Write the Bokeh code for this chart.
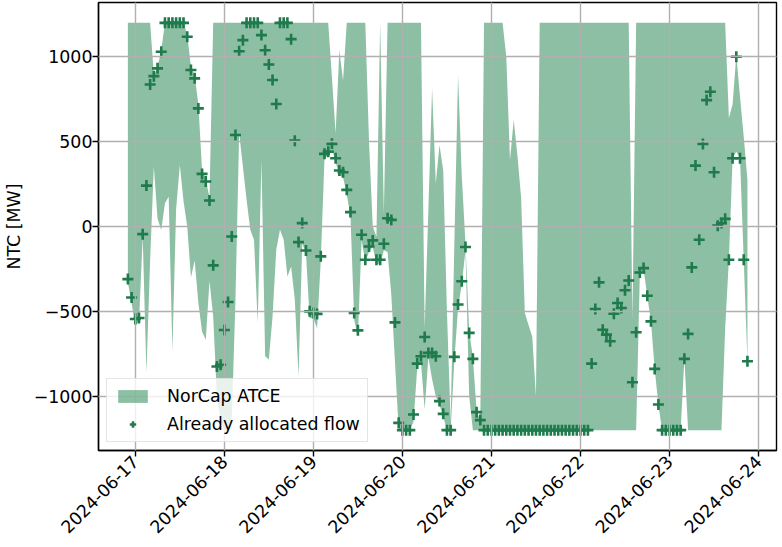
import numpy as np
import pandas as pd
from bokeh.plotting import figure
from bokeh.models import (Range1d, FixedTicker, DatetimeTickFormatter, Legend,
                          LegendItem, ColumnDataSource)
from bokeh.embed import file_html
from bokeh.resources import INLINE

# hourly timestamps (starting 2024-06-16 22:00)
times = pd.date_range("2024-06-16 22:00", periods=168, freq="h")

flow = [
    -310, -418, -545, -539, -45, 241, 837, 886, 932, 1030,
    1200, 1200, 1200, 1200, 1200, 1200, 1118, 922, 873, 696,
    310, 265, 153, -229, -825, -815, -610, -445, -59, 539,
    1033, 1098, 1200, 1200, 1200, 1200, 1128, 1039, 955, 863,
    722, 1200, 1200, 1200, 1104, 506, -92, 20, -141, -500,
    -510, -515, -176, 428, 441, 487, 402, 330, 320, 216,
    85, -510, -612, -49, -196, -118, -82, -196, -196, -102,
    49, 39, -565, -1157, -1200, -1200, -1200, -1108, -808, -765,
    -651, -745, -745, -765, -1029, -1104, -1200, -1200, -768, -460,
    -323, -121, -627, -780, -1094, -1141, -1200, -1200, -1200, -1200,
    -1200, -1200, -1200, -1200, -1200, -1200, -1200, -1200, -1200, -1200,
    -1200, -1200, -1200, -1200, -1200, -1200, -1200, -1200, -1200, -1200,
    -1200, -1200, -1200, -1200, -1200, -808, -486, -329, -608, -637,
    -676, -514, -451, -480, -376, -318, -918, -623, -271, -245,
    -408, -559, -839, -1049, -1200, -1200, -1200, -1200, -1200, -1200,
    -780, -633, -241, 359, -78, 486, 745, 794, 320, 5,
    20, 45, -196, 402, 1000, 402, -196, -794,
]

atce_upper = [
    1200, 1200, 1200, 1200, 1200, 1200, 1200, 890, 940, 1040,
    1200, 1200, 1200, 1200, 1200, 1200, 1130, 940, 890, 720,
    330, 280, 170, 1200, 1200, 1200, 1200, 1200, 1200, 1200,
    1200, 1200, 1200, 1200, 1200, 1200, 1200, 1200, 1200, 1200,
    1200, 1200, 1200, 1200, 1200, 1200, 1200, 1200, 1200, 1200,
    1200, 1200, 1200, 1200, 1200, 880, 549, 1040, 860, 1200,
    1200, 1200, 1200, 1200, 1200, 500, 0, -60, 1200, 80,
    1200, 1200, 1200, 1200, 1200, 1200, 1200, 1200, 1200, 1200,
    -600, 100, 814, 255, 480, 330, -500, -1150, -100, 892,
    300, -100, -620, -770, -1090, -1140, 1200, 1200, 1200, 1200,
    1200, 1200, 1000, 392, 627, 420, 170, -510, -580, -650,
    -1000, 1200, 1200, 1200, 1200, 1200, 1200, 1200, 1200, 1200,
    1200, 1200, 1200, 1200, 1200, 1200, 1200, 1200, 1200, 1200,
    1200, 1200, 1200, 1200, 1200, 1200, -549, 1200, 1200, 1200,
    1200, 1200, 1200, 1200, 1200, 1200, 1200, 1200, 1200, 1200,
    1200, 1200, 1200, 1200, 1200, 1200, 1200, 1200, 1200, 1200,
    1200, 1200, 640, 720, 1010, 765, 529, 274,
]

atce_lower = [
    -330, -450, -585, -560, -60, -862, -200, 353, 45, -20,
    137, 176, -735, 100, 363, 150, 0, -300, -200, -450,
    -620, -667, -320, -530, -1000, -1150, -1200, -1200, -1150, -430,
    549, 353, 157, -19, -78, -569, 392, -764, -784, -529,
    -137, -19, -78, -294, -235, -431, -882, -98, -157, -540,
    -540, -600, -200, 400, 420, 460, 380, 300, 290, 190,
    60, -550, -650, -80, -210, -150, -120, -220, -220, -140,
    -150, -400, -800, -1200, -1200, -1200, -1200, -1150, -830, -800,
    -1078, -770, -900, -1000, -1050, -1120, -1200, -1200, -790, -480,
    -340, -140, -1000, -1200, -1200, -1200, -1200, -1200, -1200, -1200,
    -1200, -1200, -1200, -1200, -1200, -1200, -1200, -1200, -1200, -1200,
    -1200, -1200, -1200, -1200, -1200, -1200, -1200, -1200, -1200, -1200,
    -1200, -1200, -1200, -1200, -1200, -1200, -1200, -1200, -1200, -1200,
    -1200, -1200, -1200, -1200, -1200, -1200, -1200, -1200, -280, -250,
    -410, -560, -840, -1050, -1200, -1200, -1200, -1200, -1200, -1200,
    -780, -1200, -1200, -1200, -1200, -1200, -1200, -1200, -1200, -1200,
    -1200, -600, -196, 402, 441, 402, -196, -794,
]

day_ticks = pd.date_range("2024-06-17", "2024-06-24", freq="D")
y_ticks = [-1000, -500, 0, 500, 1000]
y_tick_labels = {-1000: "\u22121000", -500: "\u2212500", 0: "0", 500: "500", 1000: "1000"}

src = ColumnDataSource(dict(t=times, flow=flow, lo=atce_lower, hi=atce_upper))

FONT = "DejaVu Sans"
FS = "17.4px"

p = figure(frame_width=678, frame_height=448, output_backend="svg", toolbar_location=None,
           x_axis_type="datetime",
           x_range=Range1d(pd.Timestamp("2024-06-16 14:05"), pd.Timestamp("2024-06-24 04:50")),
           y_range=Range1d(-1320, 1320),
           min_border_left=93, min_border_right=2, min_border_top=2, min_border_bottom=90)

band = p.varea(x="t", y1="lo", y2="hi", source=src, fill_color="#2e8b57", fill_alpha=0.55)
pts = p.scatter(x="t", y="flow", source=src, marker="cross", size=11,
                line_color="#1f7a4c", line_width=2.6)

p.xaxis.ticker = FixedTicker(ticks=[d.value // 10**6 for d in day_ticks])
p.xaxis.formatter = DatetimeTickFormatter(
    days="%Y-%m-%d", months="%Y-%m-%d", hours="%Y-%m-%d", years="%Y-%m-%d",
    minutes="%Y-%m-%d", seconds="%Y-%m-%d", milliseconds="%Y-%m-%d",
    minsec="%Y-%m-%d", hourmin="%Y-%m-%d", microseconds="%Y-%m-%d")
p.xaxis.major_label_orientation = np.pi / 4
p.yaxis.ticker = FixedTicker(ticks=y_ticks)
p.yaxis.major_label_overrides = y_tick_labels
p.yaxis.axis_label = "NTC [MW]"

for ax in (p.xaxis, p.yaxis):
    ax.major_label_text_font = FONT
    ax.major_label_text_font_size = FS
    ax.major_label_text_color = "black"
    ax.axis_label_text_font = FONT
    ax.axis_label_text_font_size = FS
    ax.axis_label_text_font_style = "normal"
    ax.axis_label_text_color = "black"
    ax.axis_line_color = "black"
    ax.axis_line_width = 1.4
    ax.major_tick_line_color = "black"
    ax.major_tick_line_width = 1.4
    ax.major_tick_out = 6
    ax.major_tick_in = 0
    ax.minor_tick_line_color = None
    ax.major_label_standoff = 0
p.xaxis.major_label_standoff = 2
p.yaxis.axis_label_standoff = 7
p.xaxis.axis_label_standoff = 0

p.grid.grid_line_color = "#b0b0b0"
p.grid.grid_line_width = 1.4
p.grid.level = "guide"

p.outline_line_color = "black"
p.outline_line_width = 1.4
p.background_fill_color = "white"

legend = Legend(items=[LegendItem(label="NorCap ATCE", renderers=[band]),
                       LegendItem(label="Already allocated flow", renderers=[pts])],
                location=(8, 8))
legend.label_text_font = FONT
legend.label_text_font_size = FS
legend.label_text_color = "black"
legend.glyph_width = 37
legend.glyph_height = 16
legend.label_height = 16
legend.spacing = 8
legend.padding = 7
legend.margin = 0
legend.label_standoff = 16
legend.background_fill_alpha = 0.8
legend.border_line_color = "#cccccc"
legend.border_line_width = 1.4
p.add_layout(legend)

open("out.html", "w").write(file_html(p, INLINE))
